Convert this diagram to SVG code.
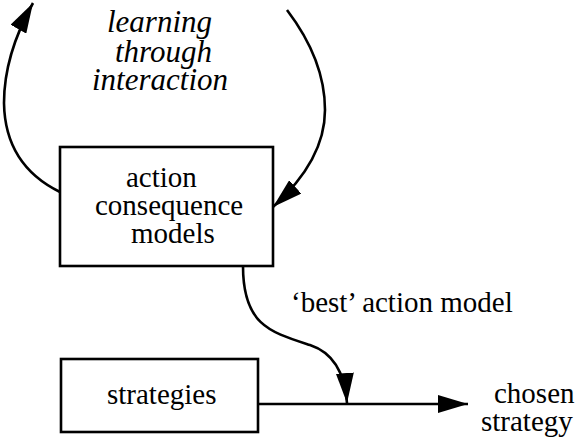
<svg xmlns="http://www.w3.org/2000/svg" width="576" height="437" viewBox="0 0 576 437">
<style>
text{font-family:'Liberation Serif','Times New Roman',serif;font-size:29px;fill:#000}
.it{font-style:italic;font-size:31px}
.box{fill:#fff;stroke:#000;stroke-width:2.6}
.con{fill:none;stroke:#000;stroke-width:2.6}
</style>
<defs>
<marker id="ah" markerUnits="userSpaceOnUse" markerWidth="30" markerHeight="18" refX="30" refY="9" orient="auto" viewBox="0 0 30 18">
<path d="M0,0 L30,9 L0,18 z" fill="#000"/>
</marker>
</defs>
<rect width="576" height="437" fill="#fff"/>
<g id="connectors">
<path class="con" d="M60,192 Q5,165 4,103 Q4,55 33,3" marker-end="url(#ah)"/>
<path class="con" d="M287,10 Q325,60 325,110 Q325,160 273,207" marker-end="url(#ah)"/>
<path class="con" d="M243,266 C243,325 270,332 310,345 C334,353 345,375 347,403" marker-end="url(#ah)"/>
<path class="con" d="M258,404 L468,404" marker-end="url(#ah)"/>
</g>
<g id="learning-label">
<text class="it" x="107" y="32">learning</text>
<text class="it" x="115" y="62">through</text>
<text class="it" x="92" y="90">interaction</text>
</g>
<g id="action-consequence-models">
<rect class="box" x="60" y="147" width="213" height="119"/>
<text x="126" y="187">action</text>
<text x="95" y="215">consequence</text>
<text x="131" y="243">models</text>
</g>
<g id="best-label">
<text x="291" y="312">‘best’ action model</text>
</g>
<g id="strategies">
<rect class="box" x="61" y="359" width="197" height="73"/>
<text x="107" y="404">strategies</text>
</g>
<g id="chosen-strategy">
<text x="494" y="403">chosen</text>
<text x="481" y="431">strategy</text>
</g>
</svg>
